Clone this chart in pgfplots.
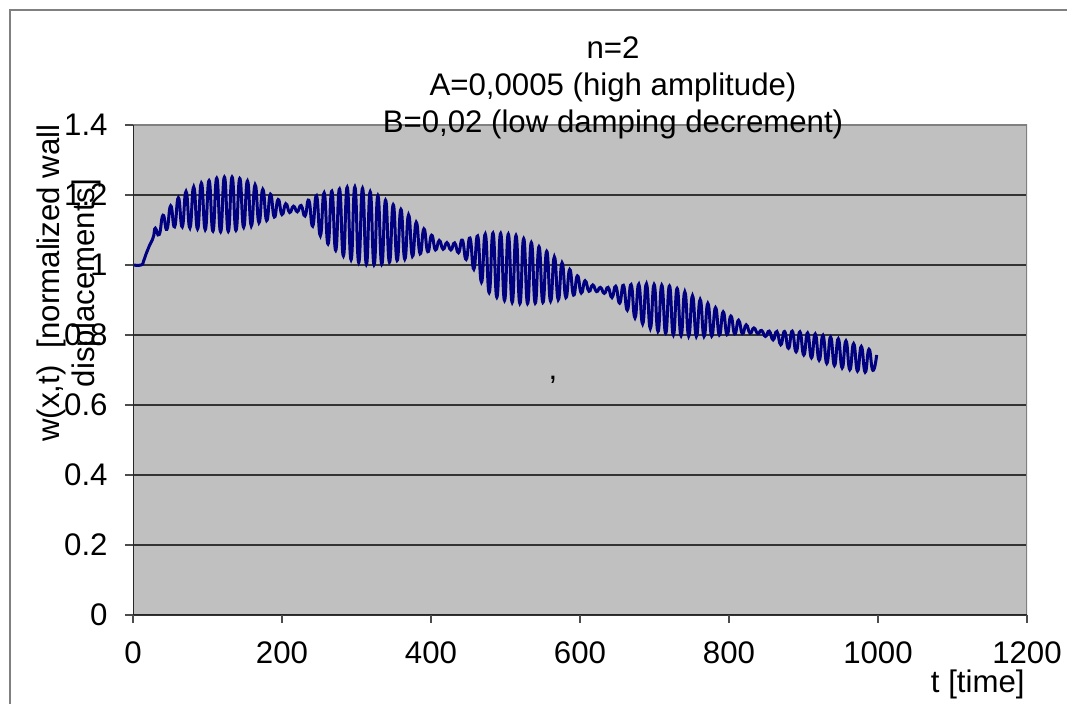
\documentclass[border=0pt]{standalone}
\usepackage{fontspec}
\setmainfont{Liberation Sans}
\usepackage{pgfplots}
\pgfplotsset{compat=1.18}
\definecolor{plotbg}{HTML}{C0C0C0}
\definecolor{navyline}{HTML}{000080}
\definecolor{framegray}{HTML}{808080}
\begin{document}
\fontsize{15.6}{17.5}\selectfont
\begin{tikzpicture}
\path[use as bounding box] (0,0) rectangle (533.5pt,352pt);
\draw[framegray, line width=0.8pt] (5pt,0pt) -- (5pt,347pt) -- (533.5pt,347pt);
\begin{axis}[
  at={(66.5pt,44.5pt)}, anchor=south west,
  scale only axis, width=447pt, height=245pt,
  xmin=0, xmax=1200, ymin=0, ymax=1.4,
  xtick={0,200,...,1200}, ytick={0,0.2,...,1.4},
  axis line style={draw=none},
  axis background/.style={fill=plotbg},
  ymajorgrids, grid style={black!80, line width=0.8pt},
  tick pos=left, tick align=outside, major tick length=4pt,
  tick style={black!70, line width=0.8pt},
  /pgf/number format/assume math mode=true,
  /pgf/number format/fixed,
  /pgf/number format/1000 sep={},
  yticklabel style={font=\fontsize{15.6}{17.5}\selectfont, inner sep=0pt, anchor=east, xshift=-8.5pt},
  xticklabel style={font=\fontsize{15.6}{17.5}\selectfont, inner sep=0pt, anchor=north, yshift=-9pt},
  clip=true,
]
\addplot[navyline, line width=1.5pt, smooth, tension=0.9] coordinates {
(0,1.0) (11,1.0) (14,1.01) (18,1.034) (22,1.055) (26,1.072) (28,1.085)
(30.0,1.105) (35.2,1.087) (40.3,1.142) (45.5,1.102) (50.6,1.169) (55.8,1.109)
(60.9,1.192) (66.1,1.109) (71.2,1.210) (76.4,1.106) (81.5,1.223) (86.7,1.103)
(91.8,1.234) (97.0,1.101) (102.1,1.241) (107.3,1.097) (112.4,1.248) (117.6,1.095)
(122.7,1.251) (127.9,1.096) (133.0,1.251) (138.2,1.099) (143.3,1.247) (148.5,1.108)
(153.6,1.240) (158.8,1.112) (163.9,1.229) (169.1,1.121) (174.2,1.216) (179.4,1.127)
(184.5,1.202) (189.7,1.137) (194.8,1.187) (200.0,1.144) (205.1,1.175) (210.3,1.150)
(215.4,1.168) (220.6,1.152) (225.7,1.170) (230.9,1.140) (236.0,1.185) (241.2,1.111)
(246.3,1.198) (251.5,1.084) (256.6,1.206) (261.8,1.060) (266.9,1.211) (272.1,1.042)
(277.2,1.217) (282.4,1.026) (287.5,1.222) (292.7,1.015) (297.8,1.223) (303.0,1.007)
(308.1,1.219) (313.3,1.002) (318.4,1.209) (323.6,1.001) (328.7,1.198) (333.9,1.002)
(339.0,1.185) (344.2,1.008) (349.3,1.172) (354.5,1.013) (359.6,1.159) (364.8,1.017)
(369.9,1.143) (375.1,1.025) (380.2,1.122) (385.4,1.032) (390.5,1.103) (395.7,1.038)
(400.8,1.085) (406.0,1.043) (411.1,1.070) (416.3,1.045) (421.4,1.064) (426.6,1.043)
(431.7,1.063) (436.9,1.035) (442.0,1.071) (447.2,1.016) (452.3,1.077) (457.5,0.988)
(462.6,1.083) (467.8,0.951) (472.9,1.088) (478.1,0.921) (483.2,1.091) (488.4,0.908)
(493.5,1.090) (498.7,0.899) (503.8,1.088) (509.0,0.893) (514.1,1.084) (519.3,0.890)
(524.4,1.075) (529.6,0.890) (534.7,1.064) (539.9,0.891) (545.0,1.052) (550.2,0.893)
(555.3,1.039) (560.5,0.897) (565.6,1.023) (570.8,0.901) (575.9,1.006) (581.1,0.907)
(586.2,0.987) (591.4,0.914) (596.5,0.969) (601.7,0.920) (606.8,0.955) (612.0,0.925)
(617.1,0.943) (622.3,0.924) (627.4,0.936) (632.6,0.919) (637.7,0.936) (642.9,0.907)
(648.0,0.939) (653.2,0.891) (658.3,0.942) (663.5,0.871) (668.6,0.944) (673.8,0.849)
(678.9,0.945) (684.1,0.832) (689.2,0.946) (694.4,0.819) (699.5,0.944) (704.7,0.810)
(709.8,0.942) (715.0,0.805) (720.1,0.940) (725.3,0.800) (730.4,0.933) (735.6,0.798)
(740.7,0.923) (745.9,0.797) (751.0,0.912) (756.2,0.796) (761.3,0.901) (766.5,0.796)
(771.6,0.890) (776.8,0.797) (781.9,0.878) (787.1,0.800) (792.2,0.866) (797.4,0.801)
(802.5,0.854) (807.7,0.803) (812.8,0.842) (818.0,0.804) (823.1,0.829) (828.3,0.805)
(833.4,0.820) (838.6,0.804) (843.7,0.813) (848.9,0.796) (854.0,0.811) (859.2,0.786)
(864.3,0.810) (869.5,0.772) (874.6,0.810) (879.8,0.762) (884.9,0.811) (890.1,0.752)
(895.2,0.809) (900.4,0.743) (905.5,0.806) (910.7,0.735) (915.8,0.803) (921.0,0.728)
(926.1,0.799) (931.3,0.719) (936.4,0.794) (941.6,0.713) (946.7,0.789) (951.9,0.706)
(957.0,0.783) (962.2,0.701) (967.3,0.775) (972.5,0.697) (977.6,0.767) (982.8,0.694)
(987.9,0.759) (993.1,0.699) (998.2,0.743)
};
\draw[framegray, line width=1.3pt] (rel axis cs:0,1) -- (rel axis cs:1,1) -- (rel axis cs:1,0);
\draw[black!85, line width=0.9pt] (rel axis cs:0,1) -- (rel axis cs:0,0) -- (rel axis cs:1,0);
\end{axis}
\node[align=center, font=\fontsize{15.6}{18.5}\selectfont, inner sep=0pt] at (306.5pt,308pt)
  {n=2\\A=0,0005 (high amplitude)\\B=0,02 (low damping decrement)};
\node[align=center, rotate=90, font=\fontsize{15.6}{17.5}\selectfont, inner sep=0pt] at (34.5pt,210.5pt)
  {w(x,t)\ \ [normalized wall\\displacements]};
\node[anchor=base east, inner sep=0pt, font=\fontsize{15.6}{17.5}\selectfont] at (512.5pt,5.5pt) {t [time]};
\node[inner sep=0pt, font=\fontsize{15.6}{17.5}\selectfont] at (276.5pt,162pt) {,};
\end{tikzpicture}
\end{document}
